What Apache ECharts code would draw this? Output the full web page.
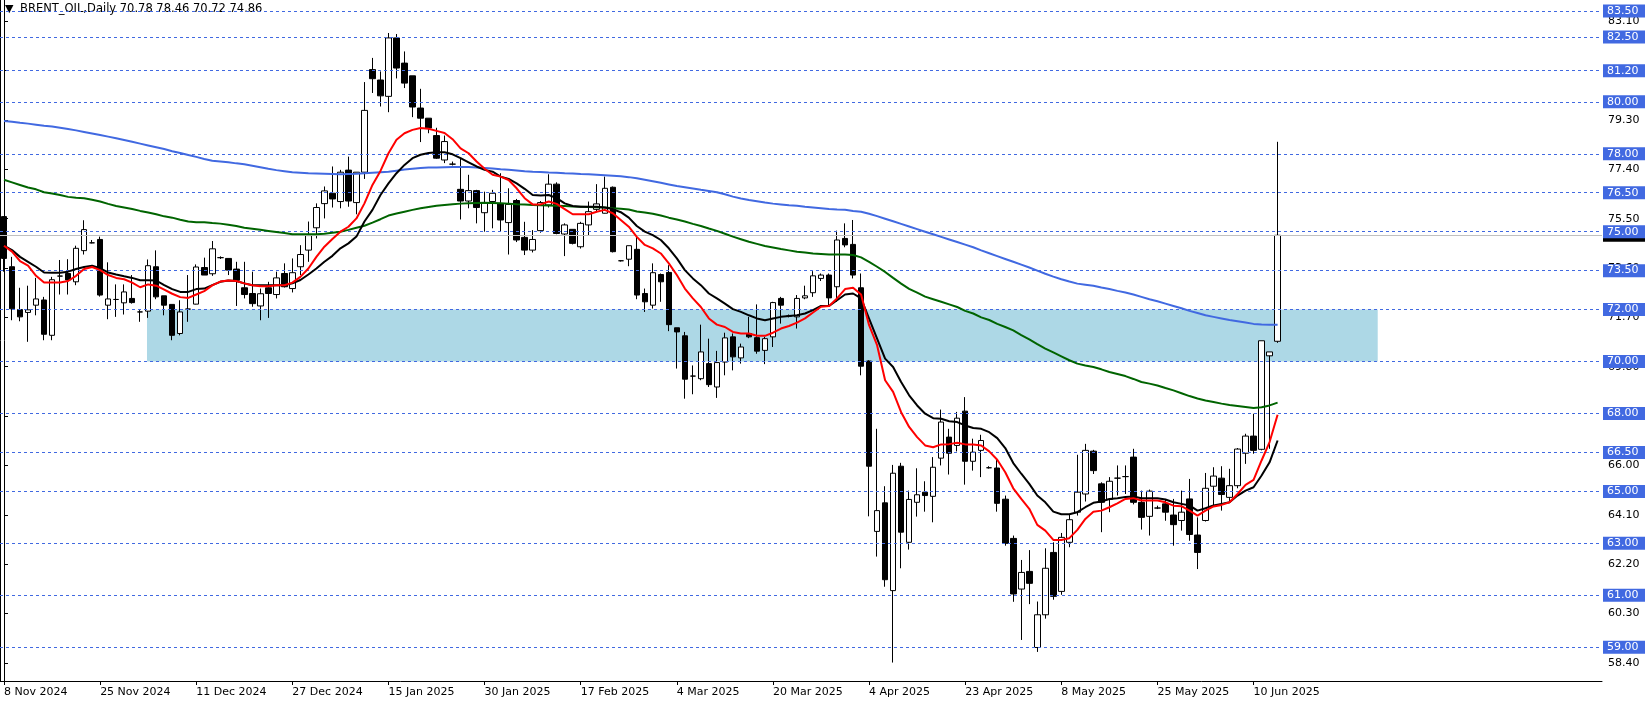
<!DOCTYPE html>
<html><head><meta charset="utf-8">
<script src="https://cdn.jsdelivr.net/npm/echarts@6/dist/echarts.min.js"></script>
<style>html,body{margin:0;padding:0;background:#fff}#c{width:1651px;height:705px}</style>
</head><body><div id="c"></div>
<script>
const symbolName = 'BRENT_OIL,Daily';
const dateLabels = ['8 Nov 2024','25 Nov 2024','11 Dec 2024','27 Dec 2024','15 Jan 2025','30 Jan 2025','17 Feb 2025','4 Mar 2025','20 Mar 2025','4 Apr 2025','23 Apr 2025','8 May 2025','25 May 2025','10 Jun 2025'];
const barsPerLabel = 12;
const slotCount = 200;

const open = [
75.58,73.65,72.00,71.89,72.17,72.37,71.01,73.29,73.39,73.07,
74.27,74.57,74.70,72.17,72.39,72.26,72.43,71.91,71.94,73.65,
72.53,72.20,71.08,72.02,72.21,73.62,73.38,74.00,73.97,73.56,
72.84,72.62,72.14,72.84,72.58,73.39,72.81,73.65,74.29,75.15,
76.08,76.48,76.16,77.37,76.12,77.29,81.24,80.84,80.21,82.46,
81.49,81.00,79.76,79.37,78.70,77.76,77.60,76.63,76.18,76.58,
75.73,76.16,76.07,75.35,76.20,74.78,74.29,75.04,76.03,76.83,
74.91,75.09,74.42,75.26,75.86,75.71,76.71,73.88,73.94,74.32,
72.62,72.17,73.35,73.43,71.30,70.99,69.44,69.34,69.92,69.02,
69.98,70.95,70.14,71.08,70.92,70.43,70.95,72.43,71.75,71.72,
72.45,72.65,73.20,73.33,72.88,74.74,74.51,72.84,70.02,63.46,
64.56,61.18,65.97,63.04,64.58,64.97,64.81,66.28,67.09,66.77,
68.09,66.16,66.58,65.91,65.90,64.70,63.19,61.24,61.92,58.99,
60.25,62.65,61.15,63.04,64.20,64.90,66.55,65.29,64.69,65.51,
65.57,66.32,64.58,64.04,64.36,64.52,64.09,63.88,64.71,63.32,
63.88,65.20,65.51,64.77,65.22,66.47,67.13,66.62,70.22,70.78];
const high = [
75.60,74.03,72.84,72.92,73.22,72.49,73.26,73.91,73.94,74.46,
75.44,74.68,74.81,73.82,72.97,72.97,73.33,71.98,73.93,74.28,
72.53,72.20,72.36,73.33,73.74,74.00,74.64,74.05,73.97,73.84,
73.84,73.46,72.81,73.07,73.46,73.78,73.97,74.48,75.39,76.09,
76.74,77.51,77.38,77.89,77.29,80.76,81.69,81.17,82.65,82.61,
81.94,81.00,80.50,79.37,79.00,78.70,77.70,77.83,77.19,76.61,
76.54,76.61,77.25,76.67,76.26,75.38,75.06,76.18,77.21,76.90,
75.32,75.09,75.38,76.16,76.83,77.12,76.74,73.90,74.46,74.80,
72.81,73.78,73.39,73.71,71.30,71.14,69.85,71.42,70.88,70.41,
71.11,71.08,70.69,71.72,72.20,70.95,72.30,72.49,71.81,72.56,
72.92,73.48,73.39,73.39,75.04,75.32,75.45,73.39,70.05,67.41,
65.20,66.02,66.10,65.03,65.89,65.39,66.32,68.15,67.41,68.06,
68.63,67.03,67.18,65.97,66.26,64.84,63.30,62.36,62.74,60.76,
62.81,63.04,63.40,64.13,66.41,66.83,66.60,65.35,65.55,66.00,
66.00,66.64,65.03,65.07,64.45,64.71,64.71,65.03,65.48,64.00,
65.71,65.93,65.97,65.87,66.67,67.22,67.99,70.80,70.37,78.46];
const low = [
73.46,71.59,71.55,70.76,71.78,70.82,70.82,72.58,72.58,72.94,
74.12,74.55,72.50,71.63,71.72,71.81,72.23,71.53,71.68,72.40,
71.78,70.82,71.01,71.53,72.20,73.33,73.30,73.95,73.33,72.14,
72.43,72.11,71.59,71.68,72.43,72.85,72.66,73.33,73.84,74.74,
75.51,75.93,75.90,75.96,75.67,77.03,80.34,79.82,79.60,80.90,
80.53,79.41,78.45,78.79,77.80,77.64,77.55,75.47,75.90,75.32,
75.00,75.13,75.02,74.12,74.60,74.10,74.20,74.96,75.93,74.90,
74.06,74.51,74.35,74.87,75.77,75.70,74.20,73.85,73.67,72.40,
71.91,72.04,72.30,71.17,69.73,68.57,68.74,69.28,69.02,68.60,
69.47,69.66,69.92,70.90,70.30,69.90,70.56,71.46,71.70,71.27,
72.40,72.49,73.10,72.17,72.30,74.40,73.20,69.47,64.04,62.49,
61.33,58.41,62.04,62.76,64.03,64.22,63.81,66.00,65.65,66.54,
65.26,65.80,65.55,65.88,64.22,62.91,60.75,59.28,60.66,58.82,
60.10,60.83,61.02,62.85,64.07,64.61,65.67,63.43,64.20,64.84,
64.90,64.50,63.53,63.30,64.32,63.87,62.91,63.49,63.10,62.01,
63.84,64.46,64.26,64.58,65.12,66.06,66.45,66.58,66.64,70.72];
const close = [
73.97,72.03,71.72,71.99,72.41,71.05,73.15,73.29,73.14,74.36,
75.08,74.57,72.56,72.41,72.39,72.68,72.27,71.91,73.69,72.49,
72.17,71.01,71.91,72.02,73.64,73.33,74.34,74.00,73.52,73.13,
72.58,72.23,72.61,72.62,73.22,72.88,73.42,74.12,74.85,75.93,
76.57,76.26,77.29,76.18,77.29,79.67,80.89,80.23,82.46,81.30,
80.72,79.80,79.37,78.99,77.83,78.47,77.60,76.18,76.58,75.93,
76.09,76.48,75.45,76.05,74.68,74.29,74.70,76.12,76.83,74.93,
75.26,74.55,75.32,75.77,76.07,76.67,74.23,73.88,74.46,72.56,
72.30,73.42,73.07,71.42,71.14,69.32,69.44,70.37,69.11,69.96,
70.91,70.18,70.56,70.95,70.40,70.88,72.27,72.17,71.75,72.43,
72.53,73.30,73.33,72.45,74.68,74.49,73.33,69.82,65.97,64.26,
61.60,65.70,63.43,64.69,64.87,64.84,65.93,67.67,66.47,67.82,
66.16,66.51,66.96,65.91,64.54,63.00,61.05,61.88,61.46,60.25,
62.04,60.96,63.23,63.91,64.97,66.58,65.80,64.58,65.39,65.51,
65.57,64.58,64.00,65.01,64.36,64.20,63.72,64.20,63.34,62.65,
65.12,65.59,64.88,65.22,66.63,67.13,66.58,70.80,70.37,74.86];

const maRed = [
74.46,74.23,73.87,73.69,73.30,73.04,73.04,73.04,73.10,73.30,
73.56,73.64,73.52,73.33,73.22,73.17,73.04,72.86,72.97,72.92,
72.77,72.61,72.48,72.45,72.58,72.71,72.93,73.08,73.12,73.10,
73.01,72.94,72.90,72.90,72.94,72.94,73.04,73.26,73.58,74.03,
74.42,74.72,75.00,75.19,75.51,76.09,76.80,77.34,78.02,78.54,
78.79,78.92,78.99,78.96,78.88,78.80,78.56,78.21,78.02,77.70,
77.42,77.19,77.12,76.99,76.67,76.29,76.05,76.05,76.16,76.07,
75.87,75.67,75.67,75.67,75.77,75.84,75.71,75.45,75.19,74.80,
74.49,74.36,74.16,73.78,73.33,72.81,72.43,72.10,71.66,71.42,
71.33,71.14,71.08,71.08,70.99,70.99,71.11,71.27,71.37,71.50,
71.66,71.89,72.11,72.14,72.43,72.79,72.84,72.58,71.40,70.63,
69.28,68.83,68.05,67.48,67.09,66.77,66.70,66.81,66.82,66.87,
66.81,66.81,66.77,66.54,66.22,65.74,65.12,64.71,64.33,63.71,
63.49,63.13,63.13,63.20,63.52,63.94,64.22,64.26,64.39,64.54,
64.71,64.74,64.65,64.65,64.65,64.58,64.45,64.43,64.26,64.07,
64.26,64.42,64.48,64.58,64.90,65.25,65.44,66.19,66.90,67.95];
const maBlack = [
74.46,74.29,74.03,73.84,73.65,73.43,73.42,73.42,73.46,73.56,
73.64,73.69,73.59,73.43,73.35,73.28,73.22,73.13,73.13,73.12,
72.94,72.79,72.68,72.68,72.79,72.81,72.94,73.07,73.12,73.10,
73.01,72.94,72.94,72.94,72.94,72.94,73.01,73.14,73.35,73.58,
73.84,74.07,74.36,74.55,74.81,75.39,75.84,76.41,76.86,77.25,
77.57,77.83,77.96,78.03,78.06,78.06,77.98,77.83,77.67,77.51,
77.38,77.31,77.12,77.03,76.86,76.65,76.41,76.39,76.41,76.29,
76.09,75.99,75.96,75.96,75.96,75.93,75.87,75.75,75.54,75.22,
75.00,74.87,74.68,74.36,73.97,73.52,73.20,72.94,72.62,72.43,
72.23,72.02,71.91,71.78,71.66,71.59,71.66,71.72,71.75,71.78,
71.85,71.98,72.14,72.14,72.36,72.58,72.62,72.43,71.65,70.88,
70.11,69.79,69.21,68.70,68.31,67.99,67.82,67.80,67.70,67.67,
67.54,67.44,67.41,67.28,67.05,66.67,66.09,65.68,65.29,64.84,
64.58,64.22,64.12,64.12,64.20,64.39,64.56,64.61,64.71,64.74,
64.78,64.80,64.74,64.74,64.74,64.69,64.58,64.52,64.46,64.26,
64.35,64.46,64.52,64.58,64.84,65.03,65.16,65.61,66.12,66.96];
const maGreen = [
77.00,76.90,76.80,76.70,76.63,76.52,76.47,76.41,76.34,76.31,
76.29,76.23,76.16,76.07,75.99,75.93,75.87,75.80,75.74,75.67,
75.59,75.54,75.46,75.39,75.36,75.36,75.33,75.31,75.27,75.22,
75.15,75.11,75.07,75.03,74.99,74.95,74.90,74.90,74.90,74.90,
74.92,74.96,75.00,75.07,75.15,75.23,75.35,75.48,75.62,75.70,
75.77,75.84,75.90,75.95,76.00,76.03,76.06,76.08,76.09,76.10,
76.11,76.10,76.09,76.08,76.06,76.05,76.03,76.02,76.01,76.00,
75.99,75.97,75.96,75.95,75.94,75.93,75.90,75.88,75.85,75.78,
75.74,75.69,75.62,75.54,75.47,75.39,75.30,75.22,75.12,75.03,
74.92,74.81,74.71,74.61,74.53,74.45,74.39,74.33,74.28,74.23,
74.20,74.16,74.14,74.12,74.12,74.12,74.10,74.01,73.84,73.65,
73.45,73.22,73.00,72.80,72.65,72.50,72.40,72.30,72.20,72.10,
71.95,71.85,71.70,71.60,71.45,71.33,71.20,71.02,70.85,70.67,
70.50,70.35,70.20,70.05,69.92,69.85,69.79,69.70,69.60,69.52,
69.44,69.33,69.21,69.15,69.08,68.98,68.89,68.78,68.67,68.58,
68.50,68.44,68.38,68.33,68.29,68.25,68.21,68.24,68.31,68.42];
const maBlue = [
79.26,79.23,79.19,79.16,79.12,79.08,79.05,79.00,78.95,78.90,
78.84,78.78,78.72,78.66,78.60,78.53,78.46,78.39,78.32,78.25,
78.18,78.10,78.03,77.95,77.88,77.80,77.73,77.70,77.67,77.63,
77.60,77.54,77.48,77.42,77.37,77.33,77.29,77.27,77.25,77.24,
77.23,77.22,77.21,77.22,77.23,77.25,77.27,77.29,77.31,77.35,
77.39,77.42,77.45,77.47,77.47,77.48,77.49,77.49,77.49,77.47,
77.45,77.43,77.40,77.38,77.36,77.33,77.31,77.30,77.28,77.27,
77.25,77.24,77.22,77.21,77.19,77.17,77.15,77.13,77.10,77.06,
77.00,76.94,76.88,76.82,76.76,76.71,76.66,76.61,76.57,76.52,
76.44,76.35,76.28,76.22,76.17,76.12,76.08,76.05,76.02,76.00,
75.96,75.93,75.90,75.87,75.85,75.84,75.80,75.77,75.69,75.60,
75.50,75.40,75.30,75.20,75.10,75.00,74.90,74.80,74.70,74.60,
74.50,74.40,74.28,74.17,74.06,73.95,73.84,73.73,73.62,73.50,
73.38,73.27,73.17,73.08,73.00,72.96,72.92,72.85,72.79,72.72,
72.66,72.58,72.49,72.40,72.32,72.23,72.14,72.05,71.95,71.87,
71.78,71.72,71.66,71.60,71.55,71.50,71.45,71.43,71.42,71.42];

const levels = [83.5,82.5,81.2,80,78,76.5,75,73.5,72,70,68,66.5,65,63,61,59];
const scaleTicks = [83.1,81.2,79.3,77.4,75.5,73.6,71.7,69.8,67.9,66.0,64.1,62.2,60.3,58.4];
const priceMin = 57.70, priceMax = 83.92;
const bidPrice = close[close.length - 1];
const zoneY = [70, 72];
const zoneX = [17.85, 171.5];

const categories = [];
for (let i = 0; i < slotCount; i++) {
  const k = i / barsPerLabel;
  categories.push(i % barsPerLabel === 0 && k < dateLabels.length ? dateLabels[k] : '');
}
const candles = open.map((o, i) => [o, close[i], low[i], high[i]]);
const last = open.length - 1;
const header = symbolName + ' ' + [open[last], high[last], low[last], close[last]].map(v => v.toFixed(2)).join(' ');

const FONT = 'DejaVu Sans';
const chart = echarts.init(document.getElementById('c'), null, {renderer: 'canvas'});
const showLabel = (idx, val) => val !== '';
const line = (data, color) => ({
  type: 'line', data, xAxisIndex: 0, yAxisIndex: 0, symbol: 'none', smooth: false,
  lineStyle: {color, width: 2}, z: 5, silent: true, animation: false
});
const boxLabel = (values, bg) => ({
  customValues: values, formatter: v => v.toFixed(2), color: '#fff', backgroundColor: bg,
  fontFamily: FONT, fontSize: 11, lineHeight: 12, padding: [1, 2, 0, 4], width: 36, margin: 1
});
chart.setOption({
  animation: false,
  backgroundColor: '#fff',
  grid: {left: 0, right: 49, top: 0, bottom: 24, containLabel: false, outerBoundsMode: 'none'},
  graphic: [
    {type: 'text', left: 5, top: 4, z: 0, style: {text: '▼', fontFamily: FONT, fontSize: 11, fill: '#000'}},
    {type: 'text', left: 20, top: 3, z: 0, style: {text: header, fontFamily: FONT, fontSize: 11.5, fill: '#000'}}
  ],
  xAxis: [
    {type: 'category', data: categories, boundaryGap: true,
     axisLine: {show: true, lineStyle: {color: '#000', width: 1}},
     axisTick: {show: true, interval: showLabel, alignWithLabel: true, length: 4, lineStyle: {color: '#000'}},
     axisLabel: {interval: showLabel, align: 'left', margin: 6, color: '#000', fontFamily: FONT, fontSize: 11},
     splitLine: {show: false}},
    {type: 'value', min: -0.5, max: slotCount - 0.5, show: false}
  ],
  yAxis: [
    {type: 'value', position: 'right', min: priceMin, max: priceMax, z: 4,
     axisLine: {show: true, lineStyle: {color: '#000', width: 1}},
     axisTick: {show: true, length: 4, customValues: scaleTicks, lineStyle: {color: '#000'}},
     axisLabel: {customValues: scaleTicks, formatter: v => v.toFixed(2), color: '#000', fontFamily: FONT, fontSize: 11, margin: 6},
     splitLine: {show: false}},
    {type: 'value', position: 'right', min: priceMin, max: priceMax, z: 7,
     axisLine: {show: false}, axisTick: {show: false}, splitLine: {show: false},
     axisLabel: boxLabel(levels, '#4169E1')},
    {type: 'value', position: 'right', min: priceMin, max: priceMax, z: 6,
     axisLine: {show: false}, axisTick: {show: false}, splitLine: {show: false},
     axisLabel: boxLabel([bidPrice], '#000')},
    {type: 'value', position: 'left', min: priceMin, max: priceMax,
     axisLine: {show: true, lineStyle: {color: '#000', width: 1}}, axisTick: {show: false}, axisLabel: {show: false}, splitLine: {show: false}}
  ],
  series: [
    {type: 'line', xAxisIndex: 1, yAxisIndex: 0, data: [], z: 1, silent: true,
     markArea: {silent: true, itemStyle: {color: '#ADD8E6'},
       data: [[{xAxis: zoneX[0], yAxis: zoneY[0]}, {xAxis: zoneX[1], yAxis: zoneY[1]}]]}},
    {type: 'line', xAxisIndex: 1, yAxisIndex: 0, data: [], z: 2, silent: true,
     markLine: {silent: true, symbol: 'none', label: {show: false}, animation: false,
       data: levels.map(v => ({yAxis: v, lineStyle: {color: '#4169E1', type: [3, 3], width: 1}}))
         .concat([{yAxis: bidPrice, lineStyle: {color: '#C0C0C0', type: 'solid', width: 1}}])}},
    {type: 'candlestick', xAxisIndex: 0, yAxisIndex: 0, data: candles, barWidth: 6, z: 3, silent: true,
     itemStyle: {color: '#ffffff', color0: '#000000', borderColor: '#000000', borderColor0: '#000000', borderWidth: 1}},
    line(maBlue, '#4169E1'),
    line(maGreen, '#006400'),
    line(maBlack, '#000000'),
    line(maRed, '#FF0000')
  ]
});
</script></body></html>
